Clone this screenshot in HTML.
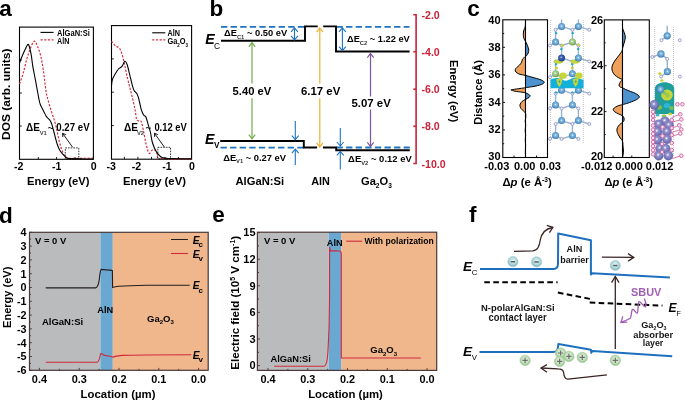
<!DOCTYPE html>
<html><head><meta charset="utf-8"><title>figure</title>
<style>
html,body{margin:0;padding:0;background:#fff;width:685px;height:401px;overflow:hidden;}
svg{display:block;will-change:transform;}
text{font-family:"Liberation Sans", sans-serif;}
</style></head><body>
<svg width="685" height="401" viewBox="0 0 685 401">
<defs>
<radialGradient id="gAl" cx="0.5" cy="0.45" r="0.55"><stop offset="0" stop-color="#ffffff"/><stop offset="0.22" stop-color="#8cc0e4"/><stop offset="0.7" stop-color="#5c9ccc"/><stop offset="1" stop-color="#3a74a8"/></radialGradient>
<radialGradient id="gGr" cx="0.45" cy="0.4" r="0.6"><stop offset="0" stop-color="#ffffff"/><stop offset="0.25" stop-color="#b4d89a"/><stop offset="1" stop-color="#6aa050"/></radialGradient>
<radialGradient id="gDb" cx="0.45" cy="0.4" r="0.6"><stop offset="0" stop-color="#c8d8f0"/><stop offset="0.3" stop-color="#3e64b0"/><stop offset="1" stop-color="#1a3c8c"/></radialGradient>
<radialGradient id="gGa" cx="0.45" cy="0.4" r="0.6"><stop offset="0" stop-color="#ffffff"/><stop offset="0.28" stop-color="#9494cf"/><stop offset="1" stop-color="#5e5ea6"/></radialGradient>
<radialGradient id="gEl" cx="0.5" cy="0.42" r="0.58"><stop offset="0" stop-color="#eef8f8"/><stop offset="0.55" stop-color="#b4dade"/><stop offset="1" stop-color="#7ab0ba"/></radialGradient>
<radialGradient id="gHo" cx="0.5" cy="0.45" r="0.55"><stop offset="0" stop-color="#eef6ea"/><stop offset="0.6" stop-color="#c4e0bc"/><stop offset="1" stop-color="#8cc084"/></radialGradient>
</defs>
<text x="-0.8" y="16.2" font-size="22.5" font-weight="bold">a</text>
<text x="209.6" y="16.2" font-size="22.5" font-weight="bold">b</text>
<text x="467.3" y="16.2" font-size="22.5" font-weight="bold">c</text>
<text x="-1.0" y="222.5" font-size="22.5" font-weight="bold">d</text>
<text x="212.2" y="222.3" font-size="22.5" font-weight="bold">e</text>
<text x="469.0" y="222.0" font-size="22.5" font-weight="bold">f</text>
<rect x="19.5" y="27.1" width="73.9" height="132.2" fill="none" stroke="#000" stroke-width="1.1"/>
<line x1="19.5" y1="60.0" x2="21.8" y2="60.0" stroke="#000" stroke-width="0.9"/>
<line x1="19.5" y1="93.0" x2="21.8" y2="93.0" stroke="#000" stroke-width="0.9"/>
<line x1="19.5" y1="126.0" x2="21.8" y2="126.0" stroke="#000" stroke-width="0.9"/>
<line x1="38.3" y1="159.3" x2="38.3" y2="157.0" stroke="#000" stroke-width="0.9"/>
<line x1="56.6" y1="159.3" x2="56.6" y2="157.0" stroke="#000" stroke-width="0.9"/>
<line x1="75.0" y1="159.3" x2="75.0" y2="157.0" stroke="#000" stroke-width="0.9"/>
<text x="18.6" y="169.6" font-size="10.6" text-anchor="middle" font-weight="bold">-2</text>
<text x="56.7" y="169.6" font-size="10.6" text-anchor="middle" font-weight="bold">-1</text>
<text x="93.6" y="169.6" font-size="10.6" text-anchor="middle" font-weight="bold">0</text>
<text x="58.3" y="184.6" font-size="11.3" text-anchor="middle" font-weight="bold" textLength="62.5" lengthAdjust="spacingAndGlyphs">Energy (eV)</text>
<text transform="translate(10.0,94.3) rotate(-90)" x="0" y="0" font-size="11.8" font-weight="bold" text-anchor="middle" textLength="91.5" lengthAdjust="spacingAndGlyphs">DOS (arb. units)</text>
<line x1="40.5" y1="32.4" x2="53.5" y2="32.4" stroke="#000" stroke-width="1.1"/>
<text x="57.0" y="36.0" font-size="8.2" font-weight="bold" textLength="32.8" lengthAdjust="spacingAndGlyphs">AlGaN:Si</text>
<line x1="40.5" y1="39.9" x2="53.5" y2="39.9" stroke="#d7303f" stroke-width="1.2" stroke-dasharray="2.2,1.5"/>
<text x="57.0" y="44.4" font-size="8.2" font-weight="bold" textLength="12.3" lengthAdjust="spacingAndGlyphs">AlN</text>
<path d="M19.50,83.90 C20.12,82.15 22.00,77.48 23.20,73.40 C24.40,69.32 25.53,63.47 26.70,59.40 C27.87,55.33 28.97,52.03 30.20,49.00 C31.43,45.97 32.93,41.78 34.10,41.20 C35.27,40.62 36.10,43.05 37.20,45.50 C38.30,47.95 39.68,51.83 40.70,55.90 C41.72,59.97 42.42,64.05 43.30,69.90 C44.18,75.75 45.17,85.82 46.00,91.00 C46.83,96.18 47.35,97.43 48.30,101.00 C49.25,104.57 50.62,108.95 51.70,112.40 C52.78,115.85 53.90,118.60 54.80,121.70 C55.70,124.80 56.33,127.65 57.10,131.00 C57.87,134.35 58.63,138.72 59.40,141.80 C60.17,144.88 60.80,147.13 61.70,149.50 C62.60,151.87 63.63,154.53 64.80,156.00 C65.97,157.47 66.77,157.92 68.70,158.30 C70.63,158.68 72.35,158.32 76.40,158.30 C80.45,158.28 90.23,158.22 93.00,158.20" fill="none" stroke="#d7303f" stroke-width="1.2" stroke-dasharray="2.2,1.5"/>
<path d="M19.50,63.30 C19.83,62.37 20.58,59.95 21.50,57.70 C22.42,55.45 23.85,52.00 25.00,49.80 C26.15,47.60 27.38,43.77 28.40,44.50 C29.42,45.23 30.37,50.55 31.10,54.20 C31.83,57.85 32.07,62.03 32.80,66.40 C33.53,70.77 34.65,75.88 35.50,80.40 C36.35,84.92 37.30,90.23 37.90,93.50 C38.50,96.77 38.68,98.12 39.10,100.00 C39.52,101.88 39.90,103.43 40.40,104.80 C40.90,106.17 41.50,107.00 42.10,108.20 C42.70,109.40 43.37,110.75 44.00,112.00 C44.63,113.25 45.28,114.70 45.90,115.70 C46.52,116.70 47.08,117.32 47.70,118.00 C48.32,118.68 49.08,119.17 49.60,119.80 C50.12,120.43 50.42,120.98 50.80,121.80 C51.18,122.62 51.53,123.58 51.90,124.70 C52.27,125.82 52.62,127.12 53.00,128.50 C53.38,129.88 53.77,131.33 54.20,133.00 C54.63,134.67 55.05,136.50 55.60,138.50 C56.15,140.50 56.80,143.03 57.50,145.00 C58.20,146.97 58.97,148.83 59.80,150.30 C60.63,151.77 61.48,152.65 62.50,153.80 C63.52,154.95 64.75,156.40 65.90,157.20 C67.05,158.00 67.05,158.32 69.40,158.60 C71.75,158.88 76.07,158.83 80.00,158.90 C83.93,158.97 90.83,158.98 93.00,159.00" fill="none" stroke="#000" stroke-width="1.1"/>
<text x="26.0" y="131.4" font-size="10.0" font-weight="bold">&#916;E</text>
<text x="39.7" y="134.6" font-size="5.8" font-weight="bold" fill="#444">V1</text>
<text x="47.8" y="131.4" font-size="9.8" font-weight="bold">~</text>
<text x="56.3" y="131.4" font-size="10.0" font-weight="bold" textLength="33.3" lengthAdjust="spacingAndGlyphs">0.27 eV</text>
<line x1="72.6" y1="147.2" x2="62.8" y2="133.6" stroke="#000" stroke-width="0.9"/>
<path d="M65.93,134.76 L62.50,133.30 L62.83,137.02" fill="none" stroke="#000" stroke-width="0.9" stroke-linejoin="miter"/>
<rect x="65.3" y="147.9" width="13.5" height="10.9" fill="none" stroke="#000" stroke-width="0.8" stroke-dasharray="1.6,1.1"/>
<rect x="111.5" y="25.6" width="80.1" height="133.6" fill="none" stroke="#000" stroke-width="1.1"/>
<line x1="111.5" y1="58.9" x2="113.8" y2="58.9" stroke="#000" stroke-width="0.9"/>
<line x1="111.5" y1="92.2" x2="113.8" y2="92.2" stroke="#000" stroke-width="0.9"/>
<line x1="111.5" y1="125.6" x2="113.8" y2="125.6" stroke="#000" stroke-width="0.9"/>
<line x1="124.4" y1="159.2" x2="124.4" y2="156.9" stroke="#000" stroke-width="0.9"/>
<line x1="137.9" y1="159.2" x2="137.9" y2="156.9" stroke="#000" stroke-width="0.9"/>
<line x1="151.5" y1="159.2" x2="151.5" y2="156.9" stroke="#000" stroke-width="0.9"/>
<line x1="165.0" y1="159.2" x2="165.0" y2="156.9" stroke="#000" stroke-width="0.9"/>
<line x1="178.4" y1="159.2" x2="178.4" y2="156.9" stroke="#000" stroke-width="0.9"/>
<text x="111.2" y="169.6" font-size="10.6" text-anchor="middle" font-weight="bold">-3</text>
<text x="136.4" y="169.6" font-size="10.6" text-anchor="middle" font-weight="bold">-2</text>
<text x="167.0" y="169.6" font-size="10.6" text-anchor="middle" font-weight="bold">-1</text>
<text x="191.9" y="169.6" font-size="10.6" text-anchor="middle" font-weight="bold">0</text>
<text x="154.5" y="184.7" font-size="11.3" text-anchor="middle" font-weight="bold" textLength="63" lengthAdjust="spacingAndGlyphs">Energy (eV)</text>
<line x1="152.2" y1="32.8" x2="165.3" y2="32.8" stroke="#000" stroke-width="1.1"/>
<text x="167.4" y="36.2" font-size="8.2" font-weight="bold" textLength="12.5" lengthAdjust="spacingAndGlyphs">AlN</text>
<line x1="152.2" y1="39.8" x2="165.3" y2="39.8" stroke="#d7303f" stroke-width="1.2" stroke-dasharray="2.2,1.5"/>
<text x="167.4" y="44.4" font-size="8.2" font-weight="bold" textLength="20.6" lengthAdjust="spacingAndGlyphs">Ga<tspan font-size="4.8" dy="2.2">2</tspan><tspan dy="-2.2">O</tspan><tspan font-size="4.8" dy="2.2">3</tspan></text>
<path d="M111.50,41.10 C112.08,41.83 113.70,44.33 115.00,45.50 C116.30,46.67 118.13,46.65 119.30,48.10 C120.47,49.55 121.12,51.43 122.00,54.20 C122.88,56.97 123.73,60.92 124.60,64.70 C125.47,68.48 126.33,73.12 127.20,76.90 C128.07,80.68 128.93,83.92 129.80,87.40 C130.67,90.88 131.53,94.15 132.40,97.80 C133.27,101.45 134.30,105.72 135.00,109.30 C135.70,112.88 135.95,117.37 136.60,119.30 C137.25,121.23 138.13,120.52 138.90,120.90 C139.67,121.28 140.43,119.93 141.20,121.60 C141.97,123.27 142.72,127.28 143.50,130.90 C144.28,134.52 144.98,139.57 145.90,143.30 C146.82,147.03 147.98,152.15 149.00,153.30 C150.02,154.45 150.98,150.72 152.00,150.20 C153.02,149.68 154.18,149.50 155.10,150.20 C156.02,150.90 156.60,153.03 157.50,154.40 C158.40,155.77 154.83,157.67 160.50,158.40 C166.17,159.13 186.33,158.73 191.50,158.80" fill="none" stroke="#d7303f" stroke-width="1.2" stroke-dasharray="2.2,1.5"/>
<path d="M111.50,85.60 C111.65,84.58 111.82,81.38 112.40,79.50 C112.98,77.62 113.98,76.05 115.00,74.30 C116.02,72.55 117.33,70.32 118.50,69.00 C119.67,67.68 120.93,67.70 122.00,66.40 C123.07,65.10 124.03,61.48 124.90,61.20 C125.77,60.92 126.38,62.38 127.20,64.70 C128.02,67.02 128.93,71.62 129.80,75.10 C130.67,78.58 131.67,82.98 132.40,85.60 C133.13,88.22 133.47,89.48 134.20,90.80 C134.93,92.12 136.08,92.33 136.80,93.50 C137.52,94.67 138.05,96.38 138.50,97.80 C138.95,99.22 139.05,100.08 139.50,102.00 C139.95,103.92 140.53,107.18 141.20,109.30 C141.87,111.42 142.72,113.42 143.50,114.70 C144.28,115.98 145.12,115.33 145.90,117.00 C146.68,118.67 147.43,122.12 148.20,124.70 C148.97,127.28 149.87,129.78 150.50,132.50 C151.13,135.22 151.35,138.43 152.00,141.00 C152.65,143.57 153.48,145.85 154.40,147.90 C155.32,149.95 156.22,151.70 157.50,153.30 C158.78,154.90 160.05,156.63 162.10,157.50 C164.15,158.37 164.90,158.30 169.80,158.50 C174.70,158.70 187.88,158.67 191.50,158.70" fill="none" stroke="#000" stroke-width="1.1"/>
<text x="124.0" y="131.3" font-size="10.1" font-weight="bold">&#916;E</text>
<text x="136.9" y="134.5" font-size="5.8" font-weight="bold" fill="#444">V2</text>
<text x="145.4" y="131.3" font-size="9.8" font-weight="bold">~</text>
<text x="154.4" y="131.3" font-size="10.1" font-weight="bold" textLength="32.4" lengthAdjust="spacingAndGlyphs">0.12 eV</text>
<line x1="164.4" y1="147.1" x2="154.7" y2="133.6" stroke="#000" stroke-width="0.9"/>
<path d="M157.83,134.68 L154.40,133.20 L154.71,136.92" fill="none" stroke="#000" stroke-width="0.9" stroke-linejoin="miter"/>
<rect x="157.8" y="147.3" width="12.8" height="11.7" fill="none" stroke="#000" stroke-width="0.8" stroke-dasharray="1.6,1.1"/>
<line x1="221" y1="26.8" x2="305" y2="26.8" stroke="#1f73bd" stroke-width="1.8" stroke-dasharray="6.3,3.3"/>
<line x1="336.5" y1="26.8" x2="409.5" y2="26.8" stroke="#1f73bd" stroke-width="1.8" stroke-dasharray="6.3,3.3"/>
<line x1="220.5" y1="147.7" x2="304" y2="147.7" stroke="#1f73bd" stroke-width="1.8" stroke-dasharray="6.3,3.3"/>
<line x1="336.5" y1="147.5" x2="409.8" y2="147.5" stroke="#1f73bd" stroke-width="1.8" stroke-dasharray="6.3,3.3"/>
<path d="M221,40.7 L305,40.7 L305,26.4 L317.7,26.4 M323.2,26.4 L336,26.4 L336,51.5 L409.6,51.5" fill="none" stroke="#000" stroke-width="1.9"/>
<path d="M220.2,141 L303.8,141 L303.8,147.5 L317.1,147.5 M322.9,147.5 L336.2,147.5 L336.2,150.3 L409.8,150.3" fill="none" stroke="#000" stroke-width="1.9"/>
<line x1="294.5" y1="28.2" x2="294.5" y2="39.2" stroke="#1f73bd" stroke-width="1.1"/>
<path d="M297.90,31.80 L294.50,27.80 L291.10,31.80" fill="none" stroke="#1f73bd" stroke-width="1.1" stroke-linejoin="miter"/>
<path d="M291.10,35.80 L294.50,39.80 L297.90,35.80" fill="none" stroke="#1f73bd" stroke-width="1.1" stroke-linejoin="miter"/>
<line x1="342.4" y1="28.2" x2="342.4" y2="50.2" stroke="#1f73bd" stroke-width="1.1"/>
<path d="M345.80,31.80 L342.40,27.80 L339.00,31.80" fill="none" stroke="#1f73bd" stroke-width="1.1" stroke-linejoin="miter"/>
<path d="M339.00,46.60 L342.40,50.60 L345.80,46.60" fill="none" stroke="#1f73bd" stroke-width="1.1" stroke-linejoin="miter"/>
<line x1="295.3" y1="121" x2="295.3" y2="139.6" stroke="#1f73bd" stroke-width="1.1"/>
<path d="M291.90,135.60 L295.30,139.60 L298.70,135.60" fill="none" stroke="#1f73bd" stroke-width="1.1" stroke-linejoin="miter"/>
<line x1="295.3" y1="165" x2="295.3" y2="149.2" stroke="#1f73bd" stroke-width="1.1"/>
<path d="M298.70,153.20 L295.30,149.20 L291.90,153.20" fill="none" stroke="#1f73bd" stroke-width="1.1" stroke-linejoin="miter"/>
<line x1="340.3" y1="128" x2="340.3" y2="146" stroke="#1f73bd" stroke-width="1.1"/>
<path d="M336.90,142.00 L340.30,146.00 L343.70,142.00" fill="none" stroke="#1f73bd" stroke-width="1.1" stroke-linejoin="miter"/>
<line x1="340.3" y1="169.4" x2="340.3" y2="151.4" stroke="#1f73bd" stroke-width="1.1"/>
<path d="M343.70,155.40 L340.30,151.40 L336.90,155.40" fill="none" stroke="#1f73bd" stroke-width="1.1" stroke-linejoin="miter"/>
<line x1="252.0" y1="42.6" x2="252.0" y2="83.4" stroke="#72ad4a" stroke-width="1.2"/>
<line x1="252.0" y1="98.3" x2="252.0" y2="138.8" stroke="#72ad4a" stroke-width="1.2"/>
<path d="M255.15,46.80 L252.00,42.60 L248.85,46.80" fill="none" stroke="#72ad4a" stroke-width="1.2" stroke-linejoin="miter"/>
<path d="M248.85,134.60 L252.00,138.80 L255.15,134.60" fill="none" stroke="#72ad4a" stroke-width="1.2" stroke-linejoin="miter"/>
<line x1="319.8" y1="28.0" x2="319.8" y2="83.4" stroke="#ebb12e" stroke-width="1.2"/>
<line x1="319.8" y1="98.3" x2="319.8" y2="147.0" stroke="#ebb12e" stroke-width="1.2"/>
<path d="M322.95,32.20 L319.80,28.00 L316.65,32.20" fill="none" stroke="#ebb12e" stroke-width="1.2" stroke-linejoin="miter"/>
<path d="M316.65,142.80 L319.80,147.00 L322.95,142.80" fill="none" stroke="#ebb12e" stroke-width="1.2" stroke-linejoin="miter"/>
<line x1="370.5" y1="53.5" x2="370.5" y2="96.5" stroke="#7f55a3" stroke-width="1.2"/>
<line x1="370.5" y1="109.5" x2="370.5" y2="146.5" stroke="#7f55a3" stroke-width="1.2"/>
<path d="M373.65,57.70 L370.50,53.50 L367.35,57.70" fill="none" stroke="#7f55a3" stroke-width="1.2" stroke-linejoin="miter"/>
<path d="M367.35,142.30 L370.50,146.50 L373.65,142.30" fill="none" stroke="#7f55a3" stroke-width="1.2" stroke-linejoin="miter"/>
<text x="251.9" y="94.8" font-size="11.2" text-anchor="middle" font-weight="bold" textLength="38.6" lengthAdjust="spacingAndGlyphs">5.40 eV</text>
<text x="320.6" y="94.8" font-size="11.2" text-anchor="middle" font-weight="bold" textLength="39.4" lengthAdjust="spacingAndGlyphs">6.17 eV</text>
<text x="371.1" y="106.6" font-size="11.2" text-anchor="middle" font-weight="bold" textLength="39.4" lengthAdjust="spacingAndGlyphs">5.07 eV</text>
<text x="205.2" y="43.8" font-size="14.2" font-weight="bold" font-style="italic">E</text>
<text x="213.9" y="48.8" font-size="8.4">C</text>
<text x="205.0" y="144.0" font-size="14.2" font-weight="bold" font-style="italic">E</text>
<text x="213.9" y="148.3" font-size="8.2" font-weight="bold">V</text>
<text x="224.0" y="36.2" font-size="8.8" font-weight="bold" textLength="63.2" lengthAdjust="spacingAndGlyphs">&#916;E<tspan font-size="5.46" dy="2.64" fill="#333">C1</tspan><tspan dy="-2.64"> ~ 0.50 eV</tspan></text>
<text x="347.0" y="42.1" font-size="8.8" font-weight="bold" textLength="62.8" lengthAdjust="spacingAndGlyphs">&#916;E<tspan font-size="5.46" dy="2.64" fill="#333">C2</tspan><tspan dy="-2.64"> ~ 1.22 eV</tspan></text>
<text x="223.2" y="160.7" font-size="8.8" font-weight="bold" textLength="62.8" lengthAdjust="spacingAndGlyphs">&#916;E<tspan font-size="5.46" dy="2.64" fill="#333">V1</tspan><tspan dy="-2.64"> ~ 0.27 eV</tspan></text>
<text x="348.1" y="162.0" font-size="8.8" font-weight="bold" textLength="63.6" lengthAdjust="spacingAndGlyphs">&#916;E<tspan font-size="5.46" dy="2.64" fill="#333">V2</tspan><tspan dy="-2.64"> ~ 0.12 eV</tspan></text>
<text x="259.8" y="185.0" font-size="11.2" text-anchor="middle" font-weight="bold" textLength="48.6" lengthAdjust="spacingAndGlyphs">AlGaN:Si</text>
<text x="320.6" y="184.7" font-size="11.2" text-anchor="middle" font-weight="bold" textLength="18.7" lengthAdjust="spacingAndGlyphs">AlN</text>
<text x="361" y="184.7" font-size="11.2" font-weight="bold" textLength="30.8" lengthAdjust="spacingAndGlyphs">Ga<tspan font-size="6.6" dy="3.4">2</tspan><tspan dy="-3.4">O</tspan><tspan font-size="6.6" dy="3.4">3</tspan></text>
<path d="M413.3,14.8 L416.1,14.8 L416.1,163.5 L413.3,163.5" fill="none" stroke="#cc2239" stroke-width="1.6"/>
<line x1="413.3" y1="51.7" x2="416.1" y2="51.7" stroke="#cc2239" stroke-width="1.6"/>
<line x1="413.3" y1="89.2" x2="416.1" y2="89.2" stroke="#cc2239" stroke-width="1.6"/>
<line x1="413.3" y1="126.3" x2="416.1" y2="126.3" stroke="#cc2239" stroke-width="1.6"/>
<text x="421.5" y="18.9" font-size="10.6" font-weight="bold" fill="#cc2239">-2.0</text>
<text x="421.5" y="56.05" font-size="10.6" font-weight="bold" fill="#cc2239">-4.0</text>
<text x="421.5" y="93.19999999999999" font-size="10.6" font-weight="bold" fill="#cc2239">-6.0</text>
<text x="421.5" y="130.35" font-size="10.6" font-weight="bold" fill="#cc2239">-8.0</text>
<text x="421.5" y="167.5" font-size="10.6" font-weight="bold" fill="#cc2239">-10.0</text>
<text transform="translate(449.6,91.1) rotate(90)" x="0" y="0" font-size="11.3" font-weight="bold" text-anchor="middle" textLength="62.2" lengthAdjust="spacingAndGlyphs">Energy (eV)</text>
<clipPath id="clL"><rect x="502.8" y="19.8" width="22.69999999999999" height="137.7"/></clipPath>
<clipPath id="clR"><rect x="525.5" y="19.8" width="22.0" height="137.7"/></clipPath>
<path d="M525.50,19.80 C525.47,20.83 525.47,24.55 525.30,26.00 C525.13,27.45 524.78,27.67 524.50,28.50 C524.22,29.33 523.80,30.05 523.60,31.00 C523.40,31.95 523.30,33.12 523.30,34.20 C523.30,35.28 523.38,36.53 523.60,37.50 C523.82,38.47 524.28,39.37 524.60,40.00 C524.92,40.63 525.13,40.63 525.50,41.30 C525.87,41.97 526.35,42.97 526.80,44.00 C527.25,45.03 527.88,46.45 528.20,47.50 C528.52,48.55 528.70,49.38 528.70,50.30 C528.70,51.22 528.52,52.17 528.20,53.00 C527.88,53.83 527.25,54.70 526.80,55.30 C526.35,55.90 526.05,56.15 525.50,56.60 C524.95,57.05 524.02,57.55 523.50,58.00 C522.98,58.45 522.65,58.80 522.40,59.30 C522.15,59.80 522.30,60.25 522.00,61.00 C521.70,61.75 521.27,62.88 520.60,63.80 C519.93,64.72 518.80,65.72 518.00,66.50 C517.20,67.28 516.25,67.75 515.80,68.50 C515.35,69.25 515.10,70.28 515.30,71.00 C515.50,71.72 516.22,72.25 517.00,72.80 C517.78,73.35 518.58,73.87 520.00,74.30 C521.42,74.73 523.33,74.87 525.50,75.40 C527.67,75.93 530.58,76.82 533.00,77.50 C535.42,78.18 538.17,78.80 540.00,79.50 C541.83,80.20 543.58,80.95 544.00,81.70 C544.42,82.45 543.83,83.28 542.50,84.00 C541.17,84.72 538.42,85.45 536.00,86.00 C533.58,86.55 529.75,87.02 528.00,87.30 C526.25,87.58 526.83,87.50 525.50,87.70 C524.17,87.90 522.08,88.20 520.00,88.50 C517.92,88.80 514.50,89.25 513.00,89.50 C511.50,89.75 510.67,89.72 511.00,90.00 C511.33,90.28 513.17,90.83 515.00,91.20 C516.83,91.57 520.25,91.93 522.00,92.20 C523.75,92.47 524.42,92.45 525.50,92.80 C526.58,93.15 527.75,93.83 528.50,94.30 C529.25,94.77 529.92,95.07 530.00,95.60 C530.08,96.13 529.75,96.87 529.00,97.50 C528.25,98.13 526.67,98.73 525.50,99.40 C524.33,100.07 522.87,100.73 522.00,101.50 C521.13,102.27 520.63,103.25 520.30,104.00 C519.97,104.75 519.88,105.25 520.00,106.00 C520.12,106.75 520.42,107.67 521.00,108.50 C521.58,109.33 522.75,110.25 523.50,111.00 C524.25,111.75 525.12,112.00 525.50,113.00 C525.88,114.00 525.85,115.67 525.80,117.00 C525.75,118.33 525.22,119.67 525.20,121.00 C525.18,122.33 525.70,123.50 525.70,125.00 C525.70,126.50 525.22,128.33 525.20,130.00 C525.18,131.67 525.58,133.33 525.60,135.00 C525.62,136.67 525.30,138.33 525.30,140.00 C525.30,141.67 525.58,143.33 525.60,145.00 C525.62,146.67 525.42,147.92 525.40,150.00 C525.38,152.08 525.48,156.25 525.50,157.50 L525.5,157.5 L525.5,19.8 Z" fill="#eda15c" clip-path="url(#clL)"/>
<path d="M525.50,19.80 C525.47,20.83 525.47,24.55 525.30,26.00 C525.13,27.45 524.78,27.67 524.50,28.50 C524.22,29.33 523.80,30.05 523.60,31.00 C523.40,31.95 523.30,33.12 523.30,34.20 C523.30,35.28 523.38,36.53 523.60,37.50 C523.82,38.47 524.28,39.37 524.60,40.00 C524.92,40.63 525.13,40.63 525.50,41.30 C525.87,41.97 526.35,42.97 526.80,44.00 C527.25,45.03 527.88,46.45 528.20,47.50 C528.52,48.55 528.70,49.38 528.70,50.30 C528.70,51.22 528.52,52.17 528.20,53.00 C527.88,53.83 527.25,54.70 526.80,55.30 C526.35,55.90 526.05,56.15 525.50,56.60 C524.95,57.05 524.02,57.55 523.50,58.00 C522.98,58.45 522.65,58.80 522.40,59.30 C522.15,59.80 522.30,60.25 522.00,61.00 C521.70,61.75 521.27,62.88 520.60,63.80 C519.93,64.72 518.80,65.72 518.00,66.50 C517.20,67.28 516.25,67.75 515.80,68.50 C515.35,69.25 515.10,70.28 515.30,71.00 C515.50,71.72 516.22,72.25 517.00,72.80 C517.78,73.35 518.58,73.87 520.00,74.30 C521.42,74.73 523.33,74.87 525.50,75.40 C527.67,75.93 530.58,76.82 533.00,77.50 C535.42,78.18 538.17,78.80 540.00,79.50 C541.83,80.20 543.58,80.95 544.00,81.70 C544.42,82.45 543.83,83.28 542.50,84.00 C541.17,84.72 538.42,85.45 536.00,86.00 C533.58,86.55 529.75,87.02 528.00,87.30 C526.25,87.58 526.83,87.50 525.50,87.70 C524.17,87.90 522.08,88.20 520.00,88.50 C517.92,88.80 514.50,89.25 513.00,89.50 C511.50,89.75 510.67,89.72 511.00,90.00 C511.33,90.28 513.17,90.83 515.00,91.20 C516.83,91.57 520.25,91.93 522.00,92.20 C523.75,92.47 524.42,92.45 525.50,92.80 C526.58,93.15 527.75,93.83 528.50,94.30 C529.25,94.77 529.92,95.07 530.00,95.60 C530.08,96.13 529.75,96.87 529.00,97.50 C528.25,98.13 526.67,98.73 525.50,99.40 C524.33,100.07 522.87,100.73 522.00,101.50 C521.13,102.27 520.63,103.25 520.30,104.00 C519.97,104.75 519.88,105.25 520.00,106.00 C520.12,106.75 520.42,107.67 521.00,108.50 C521.58,109.33 522.75,110.25 523.50,111.00 C524.25,111.75 525.12,112.00 525.50,113.00 C525.88,114.00 525.85,115.67 525.80,117.00 C525.75,118.33 525.22,119.67 525.20,121.00 C525.18,122.33 525.70,123.50 525.70,125.00 C525.70,126.50 525.22,128.33 525.20,130.00 C525.18,131.67 525.58,133.33 525.60,135.00 C525.62,136.67 525.30,138.33 525.30,140.00 C525.30,141.67 525.58,143.33 525.60,145.00 C525.62,146.67 525.42,147.92 525.40,150.00 C525.38,152.08 525.48,156.25 525.50,157.50 L525.5,157.5 L525.5,19.8 Z" fill="#4c92cf" clip-path="url(#clR)"/>
<path d="M525.50,19.80 C525.47,20.83 525.47,24.55 525.30,26.00 C525.13,27.45 524.78,27.67 524.50,28.50 C524.22,29.33 523.80,30.05 523.60,31.00 C523.40,31.95 523.30,33.12 523.30,34.20 C523.30,35.28 523.38,36.53 523.60,37.50 C523.82,38.47 524.28,39.37 524.60,40.00 C524.92,40.63 525.13,40.63 525.50,41.30 C525.87,41.97 526.35,42.97 526.80,44.00 C527.25,45.03 527.88,46.45 528.20,47.50 C528.52,48.55 528.70,49.38 528.70,50.30 C528.70,51.22 528.52,52.17 528.20,53.00 C527.88,53.83 527.25,54.70 526.80,55.30 C526.35,55.90 526.05,56.15 525.50,56.60 C524.95,57.05 524.02,57.55 523.50,58.00 C522.98,58.45 522.65,58.80 522.40,59.30 C522.15,59.80 522.30,60.25 522.00,61.00 C521.70,61.75 521.27,62.88 520.60,63.80 C519.93,64.72 518.80,65.72 518.00,66.50 C517.20,67.28 516.25,67.75 515.80,68.50 C515.35,69.25 515.10,70.28 515.30,71.00 C515.50,71.72 516.22,72.25 517.00,72.80 C517.78,73.35 518.58,73.87 520.00,74.30 C521.42,74.73 523.33,74.87 525.50,75.40 C527.67,75.93 530.58,76.82 533.00,77.50 C535.42,78.18 538.17,78.80 540.00,79.50 C541.83,80.20 543.58,80.95 544.00,81.70 C544.42,82.45 543.83,83.28 542.50,84.00 C541.17,84.72 538.42,85.45 536.00,86.00 C533.58,86.55 529.75,87.02 528.00,87.30 C526.25,87.58 526.83,87.50 525.50,87.70 C524.17,87.90 522.08,88.20 520.00,88.50 C517.92,88.80 514.50,89.25 513.00,89.50 C511.50,89.75 510.67,89.72 511.00,90.00 C511.33,90.28 513.17,90.83 515.00,91.20 C516.83,91.57 520.25,91.93 522.00,92.20 C523.75,92.47 524.42,92.45 525.50,92.80 C526.58,93.15 527.75,93.83 528.50,94.30 C529.25,94.77 529.92,95.07 530.00,95.60 C530.08,96.13 529.75,96.87 529.00,97.50 C528.25,98.13 526.67,98.73 525.50,99.40 C524.33,100.07 522.87,100.73 522.00,101.50 C521.13,102.27 520.63,103.25 520.30,104.00 C519.97,104.75 519.88,105.25 520.00,106.00 C520.12,106.75 520.42,107.67 521.00,108.50 C521.58,109.33 522.75,110.25 523.50,111.00 C524.25,111.75 525.12,112.00 525.50,113.00 C525.88,114.00 525.85,115.67 525.80,117.00 C525.75,118.33 525.22,119.67 525.20,121.00 C525.18,122.33 525.70,123.50 525.70,125.00 C525.70,126.50 525.22,128.33 525.20,130.00 C525.18,131.67 525.58,133.33 525.60,135.00 C525.62,136.67 525.30,138.33 525.30,140.00 C525.30,141.67 525.58,143.33 525.60,145.00 C525.62,146.67 525.42,147.92 525.40,150.00 C525.38,152.08 525.48,156.25 525.50,157.50" fill="none" stroke="#000" stroke-width="1"/>
<line x1="525.5" y1="19.8" x2="525.5" y2="157.5" stroke="#000" stroke-width="1.1"/>
<rect x="502.8" y="19.8" width="44.69999999999999" height="137.7" fill="none" stroke="#000" stroke-width="1.1"/>
<line x1="502.8" y1="33.57" x2="504.2" y2="33.57" stroke="#000" stroke-width="0.9"/>
<line x1="502.8" y1="47.34" x2="505.0" y2="47.34" stroke="#000" stroke-width="0.9"/>
<line x1="502.8" y1="61.11" x2="504.2" y2="61.11" stroke="#000" stroke-width="0.9"/>
<line x1="502.8" y1="74.88" x2="505.0" y2="74.88" stroke="#000" stroke-width="0.9"/>
<line x1="502.8" y1="88.64999999999999" x2="504.2" y2="88.64999999999999" stroke="#000" stroke-width="0.9"/>
<line x1="502.8" y1="102.42" x2="505.0" y2="102.42" stroke="#000" stroke-width="0.9"/>
<line x1="502.8" y1="116.19" x2="504.2" y2="116.19" stroke="#000" stroke-width="0.9"/>
<line x1="502.8" y1="129.96" x2="505.0" y2="129.96" stroke="#000" stroke-width="0.9"/>
<line x1="502.8" y1="143.73" x2="504.2" y2="143.73" stroke="#000" stroke-width="0.9"/>
<line x1="514.0" y1="157.5" x2="514.0" y2="155.5" stroke="#000" stroke-width="0.9"/>
<line x1="536.5" y1="157.5" x2="536.5" y2="155.5" stroke="#000" stroke-width="0.9"/>
<text x="500.6" y="24.0" font-size="11" text-anchor="end" font-weight="bold">40</text>
<text x="500.6" y="51.239999999999995" font-size="11" text-anchor="end" font-weight="bold">38</text>
<text x="500.6" y="78.47999999999999" font-size="11" text-anchor="end" font-weight="bold">36</text>
<text x="500.6" y="105.72" font-size="11" text-anchor="end" font-weight="bold">34</text>
<text x="500.6" y="132.95999999999998" font-size="11" text-anchor="end" font-weight="bold">32</text>
<text x="500.6" y="160.2" font-size="11" text-anchor="end" font-weight="bold">30</text>
<text x="496.8" y="170.2" font-size="11" text-anchor="middle" font-weight="bold">-0.03</text>
<text x="524.7" y="170.2" font-size="11" text-anchor="middle" font-weight="bold">0.00</text>
<text x="550.3" y="170.2" font-size="11" text-anchor="middle" font-weight="bold">0.03</text>
<text x="502.4" y="185.8" font-size="11.2" font-weight="bold" textLength="49.4" lengthAdjust="spacingAndGlyphs">&#916;<tspan font-style="italic">p</tspan> (e &#197;<tspan font-size="6.5" dy="-4.2">-3</tspan><tspan dy="4.2">)</tspan></text>
<clipPath id="crL"><rect x="604.3" y="19.9" width="18.200000000000045" height="137.6"/></clipPath>
<clipPath id="crR"><rect x="622.5" y="19.9" width="26.799999999999955" height="137.6"/></clipPath>
<path d="M622.50,19.90 C622.50,21.08 622.38,25.32 622.50,27.00 C622.62,28.68 622.83,28.83 623.20,30.00 C623.57,31.17 624.35,32.77 624.70,34.00 C625.05,35.23 625.30,36.23 625.30,37.40 C625.30,38.57 625.00,39.73 624.70,41.00 C624.40,42.27 623.87,43.73 623.50,45.00 C623.13,46.27 622.73,47.68 622.50,48.60 C622.27,49.52 622.40,49.77 622.10,50.50 C621.80,51.23 621.43,51.92 620.70,53.00 C619.97,54.08 618.70,55.67 617.70,57.00 C616.70,58.33 615.57,59.67 614.70,61.00 C613.83,62.33 612.97,63.78 612.50,65.00 C612.03,66.22 611.90,67.22 611.90,68.30 C611.90,69.38 612.03,70.38 612.50,71.50 C612.97,72.62 613.75,74.00 614.70,75.00 C615.65,76.00 617.12,76.83 618.20,77.50 C619.28,78.17 620.48,78.67 621.20,79.00 C621.92,79.33 622.58,79.08 622.50,79.50 C622.42,79.92 621.28,80.57 620.70,81.50 C620.12,82.43 619.08,84.18 619.00,85.10 C618.92,86.02 619.62,86.55 620.20,87.00 C620.78,87.45 621.58,87.38 622.50,87.80 C623.42,88.22 624.33,88.88 625.70,89.50 C627.07,90.12 629.03,90.83 630.70,91.50 C632.37,92.17 634.27,92.65 635.70,93.50 C637.13,94.35 639.13,95.60 639.30,96.60 C639.47,97.60 638.30,98.52 636.70,99.50 C635.10,100.48 631.78,101.72 629.70,102.50 C627.62,103.28 625.40,103.85 624.20,104.20 C623.00,104.55 623.58,104.30 622.50,104.60 C621.42,104.90 619.08,105.43 617.70,106.00 C616.32,106.57 614.95,107.38 614.20,108.00 C613.45,108.62 613.12,109.07 613.20,109.70 C613.28,110.33 613.78,111.08 614.70,111.80 C615.62,112.52 617.40,113.33 618.70,114.00 C620.00,114.67 621.62,115.13 622.50,115.80 C623.38,116.47 623.75,117.22 624.00,118.00 C624.25,118.78 624.25,119.77 624.00,120.50 C623.75,121.23 623.22,121.73 622.50,122.40 C621.78,123.07 620.53,123.65 619.70,124.50 C618.87,125.35 617.97,126.45 617.50,127.50 C617.03,128.55 616.78,129.63 616.90,130.80 C617.02,131.97 617.65,133.30 618.20,134.50 C618.75,135.70 619.48,136.92 620.20,138.00 C620.92,139.08 622.05,139.83 622.50,141.00 C622.95,142.17 622.75,143.50 622.90,145.00 C623.05,146.50 623.35,148.50 623.40,150.00 C623.45,151.50 623.35,152.75 623.20,154.00 C623.05,155.25 622.62,156.92 622.50,157.50 L622.5,157.5 L622.5,19.9 Z" fill="#eda15c" clip-path="url(#crL)"/>
<path d="M622.50,19.90 C622.50,21.08 622.38,25.32 622.50,27.00 C622.62,28.68 622.83,28.83 623.20,30.00 C623.57,31.17 624.35,32.77 624.70,34.00 C625.05,35.23 625.30,36.23 625.30,37.40 C625.30,38.57 625.00,39.73 624.70,41.00 C624.40,42.27 623.87,43.73 623.50,45.00 C623.13,46.27 622.73,47.68 622.50,48.60 C622.27,49.52 622.40,49.77 622.10,50.50 C621.80,51.23 621.43,51.92 620.70,53.00 C619.97,54.08 618.70,55.67 617.70,57.00 C616.70,58.33 615.57,59.67 614.70,61.00 C613.83,62.33 612.97,63.78 612.50,65.00 C612.03,66.22 611.90,67.22 611.90,68.30 C611.90,69.38 612.03,70.38 612.50,71.50 C612.97,72.62 613.75,74.00 614.70,75.00 C615.65,76.00 617.12,76.83 618.20,77.50 C619.28,78.17 620.48,78.67 621.20,79.00 C621.92,79.33 622.58,79.08 622.50,79.50 C622.42,79.92 621.28,80.57 620.70,81.50 C620.12,82.43 619.08,84.18 619.00,85.10 C618.92,86.02 619.62,86.55 620.20,87.00 C620.78,87.45 621.58,87.38 622.50,87.80 C623.42,88.22 624.33,88.88 625.70,89.50 C627.07,90.12 629.03,90.83 630.70,91.50 C632.37,92.17 634.27,92.65 635.70,93.50 C637.13,94.35 639.13,95.60 639.30,96.60 C639.47,97.60 638.30,98.52 636.70,99.50 C635.10,100.48 631.78,101.72 629.70,102.50 C627.62,103.28 625.40,103.85 624.20,104.20 C623.00,104.55 623.58,104.30 622.50,104.60 C621.42,104.90 619.08,105.43 617.70,106.00 C616.32,106.57 614.95,107.38 614.20,108.00 C613.45,108.62 613.12,109.07 613.20,109.70 C613.28,110.33 613.78,111.08 614.70,111.80 C615.62,112.52 617.40,113.33 618.70,114.00 C620.00,114.67 621.62,115.13 622.50,115.80 C623.38,116.47 623.75,117.22 624.00,118.00 C624.25,118.78 624.25,119.77 624.00,120.50 C623.75,121.23 623.22,121.73 622.50,122.40 C621.78,123.07 620.53,123.65 619.70,124.50 C618.87,125.35 617.97,126.45 617.50,127.50 C617.03,128.55 616.78,129.63 616.90,130.80 C617.02,131.97 617.65,133.30 618.20,134.50 C618.75,135.70 619.48,136.92 620.20,138.00 C620.92,139.08 622.05,139.83 622.50,141.00 C622.95,142.17 622.75,143.50 622.90,145.00 C623.05,146.50 623.35,148.50 623.40,150.00 C623.45,151.50 623.35,152.75 623.20,154.00 C623.05,155.25 622.62,156.92 622.50,157.50 L622.5,157.5 L622.5,19.9 Z" fill="#4c92cf" clip-path="url(#crR)"/>
<path d="M622.50,19.90 C622.50,21.08 622.38,25.32 622.50,27.00 C622.62,28.68 622.83,28.83 623.20,30.00 C623.57,31.17 624.35,32.77 624.70,34.00 C625.05,35.23 625.30,36.23 625.30,37.40 C625.30,38.57 625.00,39.73 624.70,41.00 C624.40,42.27 623.87,43.73 623.50,45.00 C623.13,46.27 622.73,47.68 622.50,48.60 C622.27,49.52 622.40,49.77 622.10,50.50 C621.80,51.23 621.43,51.92 620.70,53.00 C619.97,54.08 618.70,55.67 617.70,57.00 C616.70,58.33 615.57,59.67 614.70,61.00 C613.83,62.33 612.97,63.78 612.50,65.00 C612.03,66.22 611.90,67.22 611.90,68.30 C611.90,69.38 612.03,70.38 612.50,71.50 C612.97,72.62 613.75,74.00 614.70,75.00 C615.65,76.00 617.12,76.83 618.20,77.50 C619.28,78.17 620.48,78.67 621.20,79.00 C621.92,79.33 622.58,79.08 622.50,79.50 C622.42,79.92 621.28,80.57 620.70,81.50 C620.12,82.43 619.08,84.18 619.00,85.10 C618.92,86.02 619.62,86.55 620.20,87.00 C620.78,87.45 621.58,87.38 622.50,87.80 C623.42,88.22 624.33,88.88 625.70,89.50 C627.07,90.12 629.03,90.83 630.70,91.50 C632.37,92.17 634.27,92.65 635.70,93.50 C637.13,94.35 639.13,95.60 639.30,96.60 C639.47,97.60 638.30,98.52 636.70,99.50 C635.10,100.48 631.78,101.72 629.70,102.50 C627.62,103.28 625.40,103.85 624.20,104.20 C623.00,104.55 623.58,104.30 622.50,104.60 C621.42,104.90 619.08,105.43 617.70,106.00 C616.32,106.57 614.95,107.38 614.20,108.00 C613.45,108.62 613.12,109.07 613.20,109.70 C613.28,110.33 613.78,111.08 614.70,111.80 C615.62,112.52 617.40,113.33 618.70,114.00 C620.00,114.67 621.62,115.13 622.50,115.80 C623.38,116.47 623.75,117.22 624.00,118.00 C624.25,118.78 624.25,119.77 624.00,120.50 C623.75,121.23 623.22,121.73 622.50,122.40 C621.78,123.07 620.53,123.65 619.70,124.50 C618.87,125.35 617.97,126.45 617.50,127.50 C617.03,128.55 616.78,129.63 616.90,130.80 C617.02,131.97 617.65,133.30 618.20,134.50 C618.75,135.70 619.48,136.92 620.20,138.00 C620.92,139.08 622.05,139.83 622.50,141.00 C622.95,142.17 622.75,143.50 622.90,145.00 C623.05,146.50 623.35,148.50 623.40,150.00 C623.45,151.50 623.35,152.75 623.20,154.00 C623.05,155.25 622.62,156.92 622.50,157.50" fill="none" stroke="#000" stroke-width="1"/>
<line x1="622.5" y1="19.9" x2="622.5" y2="157.5" stroke="#000" stroke-width="1.1"/>
<rect x="604.3" y="19.9" width="45.0" height="137.6" fill="none" stroke="#000" stroke-width="1.1"/>
<line x1="604.3" y1="42.83" x2="605.7" y2="42.83" stroke="#000" stroke-width="0.9"/>
<line x1="604.3" y1="65.75999999999999" x2="606.5" y2="65.75999999999999" stroke="#000" stroke-width="0.9"/>
<line x1="604.3" y1="88.69" x2="605.7" y2="88.69" stroke="#000" stroke-width="0.9"/>
<line x1="604.3" y1="111.62" x2="606.5" y2="111.62" stroke="#000" stroke-width="0.9"/>
<line x1="604.3" y1="134.55" x2="605.7" y2="134.55" stroke="#000" stroke-width="0.9"/>
<line x1="613.1" y1="157.5" x2="613.1" y2="155.5" stroke="#000" stroke-width="0.9"/>
<line x1="631.8" y1="157.5" x2="631.8" y2="155.5" stroke="#000" stroke-width="0.9"/>
<text x="603.2" y="23.8" font-size="11" text-anchor="end" font-weight="bold">26</text>
<text x="603.2" y="69.35" font-size="11" text-anchor="end" font-weight="bold">24</text>
<text x="603.2" y="114.89999999999999" font-size="11" text-anchor="end" font-weight="bold">22</text>
<text x="603.2" y="160.45" font-size="11" text-anchor="end" font-weight="bold">20</text>
<text x="596.7" y="170.2" font-size="11" text-anchor="middle" font-weight="bold">-0.012</text>
<text x="629.1" y="170.2" font-size="11" text-anchor="middle" font-weight="bold">0.000</text>
<text x="659.6" y="170.2" font-size="11" text-anchor="middle" font-weight="bold">0.012</text>
<text x="604.4" y="186" font-size="11.2" font-weight="bold" textLength="48.5" lengthAdjust="spacingAndGlyphs">&#916;<tspan font-style="italic">p</tspan> (e &#197;<tspan font-size="6.5" dy="-4.2">-3</tspan><tspan dy="4.2">)</tspan></text>
<line x1="550.6" y1="20" x2="550.6" y2="143.5" stroke="#777" stroke-width="0.6" stroke-dasharray="0.8,1.2"/>
<line x1="583.3" y1="20" x2="583.3" y2="143.5" stroke="#777" stroke-width="0.6" stroke-dasharray="0.8,1.2"/>
<line x1="561.6" y1="19.5" x2="561.6" y2="26.4" stroke="#98b2d2" stroke-width="1.4"/>
<line x1="578.4" y1="19.5" x2="578.4" y2="26.4" stroke="#98b2d2" stroke-width="1.4"/>
<line x1="561.6" y1="26.4" x2="555.6" y2="29.799999999999997" stroke="#98b2d2" stroke-width="1.4"/>
<line x1="561.6" y1="26.4" x2="572.4" y2="29.799999999999997" stroke="#98b2d2" stroke-width="1.4"/>
<line x1="578.4" y1="26.4" x2="572.4" y2="29.799999999999997" stroke="#98b2d2" stroke-width="1.4"/>
<line x1="578.4" y1="26.4" x2="589.3" y2="29.799999999999997" stroke="#98b2d2" stroke-width="1.4"/>
<line x1="561.6" y1="58.0" x2="555.6" y2="61.4" stroke="#98b2d2" stroke-width="1.4"/>
<line x1="561.6" y1="58.0" x2="572.4" y2="61.4" stroke="#98b2d2" stroke-width="1.4"/>
<line x1="561.6" y1="58.0" x2="561.6" y2="45.5" stroke="#98b2d2" stroke-width="1.4"/>
<line x1="578.4" y1="58.0" x2="572.4" y2="61.4" stroke="#98b2d2" stroke-width="1.4"/>
<line x1="578.4" y1="58.0" x2="589.3" y2="61.4" stroke="#98b2d2" stroke-width="1.4"/>
<line x1="578.4" y1="58.0" x2="578.4" y2="45.5" stroke="#98b2d2" stroke-width="1.4"/>
<line x1="561.6" y1="90.2" x2="555.6" y2="93.60000000000001" stroke="#98b2d2" stroke-width="1.4"/>
<line x1="561.6" y1="90.2" x2="572.4" y2="93.60000000000001" stroke="#98b2d2" stroke-width="1.4"/>
<line x1="561.6" y1="90.2" x2="561.6" y2="77.2" stroke="#98b2d2" stroke-width="1.4"/>
<line x1="578.4" y1="90.2" x2="572.4" y2="93.60000000000001" stroke="#98b2d2" stroke-width="1.4"/>
<line x1="578.4" y1="90.2" x2="589.3" y2="93.60000000000001" stroke="#98b2d2" stroke-width="1.4"/>
<line x1="578.4" y1="90.2" x2="578.4" y2="77.2" stroke="#98b2d2" stroke-width="1.4"/>
<line x1="561.6" y1="120.6" x2="555.6" y2="124.0" stroke="#98b2d2" stroke-width="1.4"/>
<line x1="561.6" y1="120.6" x2="572.4" y2="124.0" stroke="#98b2d2" stroke-width="1.4"/>
<line x1="561.6" y1="120.6" x2="561.6" y2="108.4" stroke="#98b2d2" stroke-width="1.4"/>
<line x1="578.4" y1="120.6" x2="572.4" y2="124.0" stroke="#98b2d2" stroke-width="1.4"/>
<line x1="578.4" y1="120.6" x2="589.3" y2="124.0" stroke="#98b2d2" stroke-width="1.4"/>
<line x1="578.4" y1="120.6" x2="578.4" y2="108.4" stroke="#98b2d2" stroke-width="1.4"/>
<line x1="555.6" y1="42.1" x2="555.6" y2="29.799999999999997" stroke="#98b2d2" stroke-width="1.4"/>
<line x1="555.6" y1="42.1" x2="550.0" y2="45.5" stroke="#98b2d2" stroke-width="1.4"/>
<line x1="555.6" y1="42.1" x2="561.6" y2="45.5" stroke="#98b2d2" stroke-width="1.4"/>
<line x1="572.4" y1="42.1" x2="572.4" y2="29.799999999999997" stroke="#98b2d2" stroke-width="1.4"/>
<line x1="572.4" y1="42.1" x2="561.6" y2="45.5" stroke="#98b2d2" stroke-width="1.4"/>
<line x1="572.4" y1="42.1" x2="578.4" y2="45.5" stroke="#98b2d2" stroke-width="1.4"/>
<line x1="555.6" y1="73.8" x2="555.6" y2="61.4" stroke="#98b2d2" stroke-width="1.4"/>
<line x1="555.6" y1="73.8" x2="550.0" y2="77.2" stroke="#98b2d2" stroke-width="1.4"/>
<line x1="555.6" y1="73.8" x2="561.6" y2="77.2" stroke="#98b2d2" stroke-width="1.4"/>
<line x1="572.4" y1="73.8" x2="572.4" y2="61.4" stroke="#98b2d2" stroke-width="1.4"/>
<line x1="572.4" y1="73.8" x2="561.6" y2="77.2" stroke="#98b2d2" stroke-width="1.4"/>
<line x1="572.4" y1="73.8" x2="578.4" y2="77.2" stroke="#98b2d2" stroke-width="1.4"/>
<line x1="555.6" y1="105.0" x2="555.6" y2="93.60000000000001" stroke="#98b2d2" stroke-width="1.4"/>
<line x1="555.6" y1="105.0" x2="550.0" y2="108.4" stroke="#98b2d2" stroke-width="1.4"/>
<line x1="555.6" y1="105.0" x2="561.6" y2="108.4" stroke="#98b2d2" stroke-width="1.4"/>
<line x1="572.4" y1="105.0" x2="572.4" y2="93.60000000000001" stroke="#98b2d2" stroke-width="1.4"/>
<line x1="572.4" y1="105.0" x2="561.6" y2="108.4" stroke="#98b2d2" stroke-width="1.4"/>
<line x1="572.4" y1="105.0" x2="578.4" y2="108.4" stroke="#98b2d2" stroke-width="1.4"/>
<line x1="555.6" y1="135.5" x2="555.6" y2="124.0" stroke="#98b2d2" stroke-width="1.4"/>
<line x1="555.6" y1="135.5" x2="550.0" y2="138.9" stroke="#98b2d2" stroke-width="1.4"/>
<line x1="555.6" y1="135.5" x2="561.6" y2="138.9" stroke="#98b2d2" stroke-width="1.4"/>
<line x1="572.4" y1="135.5" x2="572.4" y2="124.0" stroke="#98b2d2" stroke-width="1.4"/>
<line x1="572.4" y1="135.5" x2="561.6" y2="138.9" stroke="#98b2d2" stroke-width="1.4"/>
<line x1="572.4" y1="135.5" x2="578.4" y2="138.9" stroke="#98b2d2" stroke-width="1.4"/>
<circle cx="555.6" cy="29.799999999999997" r="1.5" fill="#f4f4fa" stroke="#8b8fc0" stroke-width="0.8"/>
<circle cx="572.4" cy="29.799999999999997" r="1.5" fill="#f4f4fa" stroke="#8b8fc0" stroke-width="0.8"/>
<circle cx="589.3" cy="29.799999999999997" r="1.5" fill="#f4f4fa" stroke="#8b8fc0" stroke-width="0.8"/>
<circle cx="555.6" cy="61.4" r="1.5" fill="#f4f4fa" stroke="#8b8fc0" stroke-width="0.8"/>
<circle cx="572.4" cy="61.4" r="1.5" fill="#f4f4fa" stroke="#8b8fc0" stroke-width="0.8"/>
<circle cx="589.3" cy="61.4" r="1.5" fill="#f4f4fa" stroke="#8b8fc0" stroke-width="0.8"/>
<circle cx="555.6" cy="93.60000000000001" r="1.5" fill="#f4f4fa" stroke="#8b8fc0" stroke-width="0.8"/>
<circle cx="572.4" cy="93.60000000000001" r="1.5" fill="#f4f4fa" stroke="#8b8fc0" stroke-width="0.8"/>
<circle cx="589.3" cy="93.60000000000001" r="1.5" fill="#f4f4fa" stroke="#8b8fc0" stroke-width="0.8"/>
<circle cx="555.6" cy="124.0" r="1.5" fill="#f4f4fa" stroke="#8b8fc0" stroke-width="0.8"/>
<circle cx="572.4" cy="124.0" r="1.5" fill="#f4f4fa" stroke="#8b8fc0" stroke-width="0.8"/>
<circle cx="589.3" cy="124.0" r="1.5" fill="#f4f4fa" stroke="#8b8fc0" stroke-width="0.8"/>
<circle cx="550.0" cy="45.5" r="1.5" fill="#f4f4fa" stroke="#8b8fc0" stroke-width="0.8"/>
<circle cx="561.6" cy="45.5" r="1.5" fill="#f4f4fa" stroke="#8b8fc0" stroke-width="0.8"/>
<circle cx="578.4" cy="45.5" r="1.5" fill="#f4f4fa" stroke="#8b8fc0" stroke-width="0.8"/>
<circle cx="550.0" cy="77.2" r="1.5" fill="#f4f4fa" stroke="#8b8fc0" stroke-width="0.8"/>
<circle cx="561.6" cy="77.2" r="1.5" fill="#f4f4fa" stroke="#8b8fc0" stroke-width="0.8"/>
<circle cx="578.4" cy="77.2" r="1.5" fill="#f4f4fa" stroke="#8b8fc0" stroke-width="0.8"/>
<circle cx="550.0" cy="108.4" r="1.5" fill="#f4f4fa" stroke="#8b8fc0" stroke-width="0.8"/>
<circle cx="561.6" cy="108.4" r="1.5" fill="#f4f4fa" stroke="#8b8fc0" stroke-width="0.8"/>
<circle cx="578.4" cy="108.4" r="1.5" fill="#f4f4fa" stroke="#8b8fc0" stroke-width="0.8"/>
<circle cx="550.0" cy="138.9" r="1.5" fill="#f4f4fa" stroke="#8b8fc0" stroke-width="0.8"/>
<circle cx="561.6" cy="138.9" r="1.5" fill="#f4f4fa" stroke="#8b8fc0" stroke-width="0.8"/>
<circle cx="578.4" cy="138.9" r="1.5" fill="#f4f4fa" stroke="#8b8fc0" stroke-width="0.8"/>
<ellipse cx="556.1" cy="33.2" rx="1.3" ry="1.1" fill="#1fa9c4"/>
<ellipse cx="572.6" cy="33.2" rx="1.3" ry="1.1" fill="#1fa9c4"/>
<ellipse cx="561.4" cy="49.2" rx="1.3" ry="1.1" fill="#1fa9c4"/>
<ellipse cx="578.2" cy="49.2" rx="1.3" ry="1.1" fill="#1fa9c4"/>
<ellipse cx="556" cy="64.2" rx="1.3" ry="1.1" fill="#1fa9c4"/>
<ellipse cx="572.3" cy="64.2" rx="1.3" ry="1.1" fill="#1fa9c4"/>
<ellipse cx="556" cy="92.5" rx="1.3" ry="1.1" fill="#1fa9c4"/>
<ellipse cx="572.5" cy="92.5" rx="1.3" ry="1.1" fill="#1fa9c4"/>
<ellipse cx="562.4" cy="45.2" rx="1.6" ry="1.2" fill="#c5d43a"/>
<ellipse cx="578.6" cy="44.8" rx="1.6" ry="1.2" fill="#c5d43a"/>
<ellipse cx="556.4" cy="68.0" rx="1.6" ry="1.2" fill="#c5d43a"/>
<ellipse cx="572.3" cy="68.0" rx="1.6" ry="1.2" fill="#c5d43a"/>
<ellipse cx="558.6" cy="61.6" rx="4.6" ry="2.1" fill="#c5d43a"/>
<ellipse cx="575.2" cy="61.6" rx="4.6" ry="2.1" fill="#c5d43a"/>
<circle cx="561.6" cy="26.4" r="3.5" fill="url(#gAl)"/>
<circle cx="578.4" cy="26.4" r="3.5" fill="url(#gAl)"/>
<circle cx="561.6" cy="58.0" r="3.5" fill="url(#gDb)"/>
<circle cx="578.4" cy="58.0" r="3.5" fill="url(#gAl)"/>
<circle cx="561.6" cy="90.2" r="3.5" fill="url(#gAl)"/>
<circle cx="578.4" cy="90.2" r="3.5" fill="url(#gAl)"/>
<circle cx="561.6" cy="120.6" r="3.5" fill="url(#gAl)"/>
<circle cx="578.4" cy="120.6" r="3.5" fill="url(#gAl)"/>
<circle cx="555.6" cy="42.1" r="3.5" fill="url(#gAl)"/>
<circle cx="572.4" cy="42.1" r="3.5" fill="url(#gGr)"/>
<circle cx="555.6" cy="73.8" r="3.5" fill="url(#gGr)"/>
<circle cx="572.4" cy="73.8" r="3.5" fill="url(#gAl)"/>
<circle cx="555.6" cy="105.0" r="3.5" fill="url(#gAl)"/>
<circle cx="572.4" cy="105.0" r="3.5" fill="url(#gAl)"/>
<circle cx="555.6" cy="135.5" r="3.5" fill="url(#gAl)"/>
<circle cx="572.4" cy="135.5" r="3.5" fill="url(#gAl)"/>
<path d="M550.5,79.6 C553,78.6 555.5,77.6 558.5,78.2 C561.5,78.8 564,81 567,80.6 C570,80.2 572,77.6 575,77.6 C578,77.6 580.5,79.8 583.5,79.6 L583.5,88.3 L550.5,88.3 Z" fill="#13b0d9"/>
<ellipse cx="563.0" cy="75.8" rx="3.8" ry="3.3" fill="#c5d43a"/>
<ellipse cx="578.8" cy="75.8" rx="3.8" ry="3.3" fill="#c5d43a"/>
<path d="M556.3,79.5 Q559.3,77.5 562.3,79.5 Q562,84 559.3,87 Q556.6,84 556.3,79.5 Z" fill="#c5d43a"/>
<path d="M572.6,79.5 Q575.6,77.5 578.6,79.5 Q578.3,84 575.6,87 Q572.9,84 572.6,79.5 Z" fill="#c5d43a"/>
<ellipse cx="559.4" cy="81.5" rx="0.9" ry="0.9" fill="#2aa0a8"/>
<ellipse cx="575.7" cy="81.5" rx="0.9" ry="0.9" fill="#2aa0a8"/>
<line x1="654.7" y1="27" x2="654.7" y2="157" stroke="#777" stroke-width="0.6" stroke-dasharray="0.8,1.2"/>
<line x1="673.4" y1="27" x2="673.4" y2="157" stroke="#777" stroke-width="0.6" stroke-dasharray="0.8,1.2"/>
<line x1="667.2" y1="25.8" x2="667.2" y2="35.8" stroke="#98b2d2" stroke-width="1.4"/>
<line x1="667.2" y1="35.8" x2="661.4" y2="40.2" stroke="#98b2d2" stroke-width="1.4"/>
<line x1="661" y1="53.9" x2="667.2" y2="58.9" stroke="#98b2d2" stroke-width="1.4"/>
<line x1="661" y1="53.9" x2="652.3" y2="57" stroke="#98b2d2" stroke-width="1.4"/>
<line x1="667.4" y1="71.7" x2="667.2" y2="58.9" stroke="#98b2d2" stroke-width="1.4"/>
<line x1="667.4" y1="71.7" x2="661.1" y2="76.5" stroke="#98b2d2" stroke-width="1.4"/>
<circle cx="661.4" cy="40.2" r="1.5" fill="#f4f4fa" stroke="#8b8fc0" stroke-width="0.8"/>
<circle cx="679.8" cy="40.2" r="1.5" fill="#f4f4fa" stroke="#8b8fc0" stroke-width="0.8"/>
<circle cx="667.2" cy="58.9" r="1.5" fill="#f4f4fa" stroke="#8b8fc0" stroke-width="0.8"/>
<circle cx="652.3" cy="57" r="1.5" fill="#f4f4fa" stroke="#8b8fc0" stroke-width="0.8"/>
<circle cx="661.1" cy="76.5" r="1.5" fill="#f4f4fa" stroke="#8b8fc0" stroke-width="0.8"/>
<circle cx="679.9" cy="76.5" r="1.5" fill="#f4f4fa" stroke="#8b8fc0" stroke-width="0.8"/>
<circle cx="667.2" cy="35.8" r="3.6" fill="url(#gAl)"/>
<circle cx="661" cy="53.9" r="3.6" fill="url(#gAl)"/>
<circle cx="667.4" cy="71.7" r="3.6" fill="url(#gAl)"/>
<ellipse cx="659.9" cy="73.6" rx="1.6" ry="1.3" fill="#c5d43a"/>
<ellipse cx="661.8" cy="80.5" rx="1.8" ry="1.3" fill="#c5d43a"/>
<path d="M654.9,110 L654.9,88 C655.5,84.5 660,82.3 664.5,82.3 C669,82.3 673.6,84.5 674.2,88 L674.2,114 L654.9,114 Z" fill="#1f9e9c"/>
<ellipse cx="667.0" cy="95.0" rx="5.8" ry="5.6" fill="#c8d63e"/>
<ellipse cx="667.5" cy="95.5" rx="2.2" ry="2.2" fill="#9cc850"/>
<ellipse cx="664.5" cy="93.0" rx="2.2" ry="2.0" fill="#8ec65a"/>
<ellipse cx="667" cy="105.5" rx="3.2" ry="2.6" fill="#2fb4dc"/>
<ellipse cx="659.2" cy="107.5" rx="3.0" ry="2.2" fill="#76c050"/>
<ellipse cx="671.5" cy="108" rx="2.5" ry="2.0" fill="#76c050"/>
<circle cx="660.5" cy="89.5" r="3.7" fill="url(#gAl)"/>
<ellipse cx="664" cy="116" rx="2.5" ry="1.8" fill="#9ccc4c"/>
<ellipse cx="670" cy="114" rx="2" ry="1.6" fill="#c8d63e"/>
<ellipse cx="657.5" cy="115" rx="2" ry="1.6" fill="#3cb8c8"/>
<line x1="680.3" y1="114.3" x2="671.7" y2="117.3" stroke="#d36aa6" stroke-width="0.9"/>
<line x1="681.3" y1="119.4" x2="671.7" y2="122.4" stroke="#d36aa6" stroke-width="0.9"/>
<line x1="679.2" y1="125.3" x2="671.7" y2="128.3" stroke="#d36aa6" stroke-width="0.9"/>
<line x1="681.3" y1="129.4" x2="671.7" y2="132.4" stroke="#d36aa6" stroke-width="0.9"/>
<line x1="680.3" y1="133.5" x2="671.7" y2="136.5" stroke="#d36aa6" stroke-width="0.9"/>
<line x1="681.3" y1="155.7" x2="671.7" y2="158.7" stroke="#d36aa6" stroke-width="0.9"/>
<line x1="653" y1="111.8" x2="656" y2="113.8" stroke="#d36aa6" stroke-width="0.8"/>
<line x1="653" y1="116" x2="656" y2="118" stroke="#d36aa6" stroke-width="0.8"/>
<line x1="653" y1="120" x2="656" y2="122" stroke="#d36aa6" stroke-width="0.8"/>
<line x1="653" y1="125.5" x2="656" y2="127.5" stroke="#d36aa6" stroke-width="0.8"/>
<line x1="653" y1="129.7" x2="656" y2="131.7" stroke="#d36aa6" stroke-width="0.8"/>
<line x1="653" y1="133.8" x2="656" y2="135.8" stroke="#d36aa6" stroke-width="0.8"/>
<line x1="653" y1="137.9" x2="656" y2="139.9" stroke="#d36aa6" stroke-width="0.8"/>
<line x1="653" y1="142" x2="656" y2="144" stroke="#d36aa6" stroke-width="0.8"/>
<line x1="653" y1="146.1" x2="656" y2="148.1" stroke="#d36aa6" stroke-width="0.8"/>
<line x1="653" y1="150.2" x2="656" y2="152.2" stroke="#d36aa6" stroke-width="0.8"/>
<circle cx="654.3" cy="104.9" r="4.8" fill="url(#gGa)"/>
<circle cx="664.9" cy="121.2" r="4.8" fill="url(#gGa)"/>
<circle cx="669" cy="125.3" r="4.8" fill="url(#gGa)"/>
<circle cx="658.7" cy="124.2" r="4.8" fill="url(#gGa)"/>
<circle cx="657.3" cy="131.7" r="4.8" fill="url(#gGa)"/>
<circle cx="666.9" cy="131.7" r="4.8" fill="url(#gGa)"/>
<circle cx="657.3" cy="139.9" r="4.8" fill="url(#gGa)"/>
<circle cx="666.9" cy="139.2" r="4.8" fill="url(#gGa)"/>
<circle cx="660.1" cy="148.6" r="4.8" fill="url(#gGa)"/>
<circle cx="665.5" cy="148.6" r="4.8" fill="url(#gGa)"/>
<circle cx="658.7" cy="155.7" r="4.8" fill="url(#gGa)"/>
<circle cx="668.3" cy="155.7" r="4.8" fill="url(#gGa)"/>
<circle cx="653" cy="111.8" r="1.8" fill="#f6e4ee" stroke="#d36aa6" stroke-width="1.0"/>
<circle cx="653" cy="116" r="1.8" fill="#f6e4ee" stroke="#d36aa6" stroke-width="1.0"/>
<circle cx="653" cy="120" r="1.8" fill="#f6e4ee" stroke="#d36aa6" stroke-width="1.0"/>
<circle cx="653" cy="125.5" r="1.8" fill="#f6e4ee" stroke="#d36aa6" stroke-width="1.0"/>
<circle cx="653" cy="129.7" r="1.8" fill="#f6e4ee" stroke="#d36aa6" stroke-width="1.0"/>
<circle cx="653" cy="133.8" r="1.8" fill="#f6e4ee" stroke="#d36aa6" stroke-width="1.0"/>
<circle cx="653" cy="137.9" r="1.8" fill="#f6e4ee" stroke="#d36aa6" stroke-width="1.0"/>
<circle cx="653" cy="142" r="1.8" fill="#f6e4ee" stroke="#d36aa6" stroke-width="1.0"/>
<circle cx="653" cy="146.1" r="1.8" fill="#f6e4ee" stroke="#d36aa6" stroke-width="1.0"/>
<circle cx="653" cy="150.2" r="1.8" fill="#f6e4ee" stroke="#d36aa6" stroke-width="1.0"/>
<circle cx="653" cy="154.3" r="1.8" fill="#f6e4ee" stroke="#d36aa6" stroke-width="1.0"/>
<circle cx="680.3" cy="114.3" r="1.8" fill="#f6e4ee" stroke="#d36aa6" stroke-width="1.0"/>
<circle cx="681.3" cy="119.4" r="1.8" fill="#f6e4ee" stroke="#d36aa6" stroke-width="1.0"/>
<circle cx="679.2" cy="125.3" r="1.8" fill="#f6e4ee" stroke="#d36aa6" stroke-width="1.0"/>
<circle cx="681.3" cy="129.4" r="1.8" fill="#f6e4ee" stroke="#d36aa6" stroke-width="1.0"/>
<circle cx="680.3" cy="133.5" r="1.8" fill="#f6e4ee" stroke="#d36aa6" stroke-width="1.0"/>
<circle cx="681.3" cy="155.7" r="1.8" fill="#f6e4ee" stroke="#d36aa6" stroke-width="1.0"/>
<circle cx="677.4" cy="104.3" r="1.8" fill="#f6e4ee" stroke="#d36aa6" stroke-width="1.0"/>
<circle cx="682.4" cy="104.3" r="1.8" fill="#f6e4ee" stroke="#d36aa6" stroke-width="1.0"/>
<circle cx="671.7" cy="120" r="1.8" fill="#f6e4ee" stroke="#d36aa6" stroke-width="1.0"/>
<circle cx="671.7" cy="128" r="1.8" fill="#f6e4ee" stroke="#d36aa6" stroke-width="1.0"/>
<circle cx="671.7" cy="135" r="1.8" fill="#f6e4ee" stroke="#d36aa6" stroke-width="1.0"/>
<circle cx="671.7" cy="143" r="1.8" fill="#f6e4ee" stroke="#d36aa6" stroke-width="1.0"/>
<circle cx="671.7" cy="150" r="1.8" fill="#f6e4ee" stroke="#d36aa6" stroke-width="1.0"/>
<circle cx="662.5" cy="136" r="1.8" fill="#f6e4ee" stroke="#d36aa6" stroke-width="1.0"/>
<circle cx="662.5" cy="127" r="1.8" fill="#f6e4ee" stroke="#d36aa6" stroke-width="1.0"/>
<circle cx="662" cy="144" r="1.8" fill="#f6e4ee" stroke="#d36aa6" stroke-width="1.0"/>
<circle cx="662" cy="152" r="1.8" fill="#f6e4ee" stroke="#d36aa6" stroke-width="1.0"/>
<text transform="translate(481.6,92.4) rotate(-90)" x="0" y="0" font-size="11.2" font-weight="bold" text-anchor="middle" textLength="64.6" lengthAdjust="spacingAndGlyphs">Distance (&#197;)</text>
<rect x="29.5" y="232.3" width="70.9" height="138" fill="#b9bbbc"/>
<rect x="100.4" y="232.3" width="12.4" height="138" fill="#6aa8d2"/>
<rect x="112.8" y="232.3" width="95.4" height="138" fill="#efb78b"/>
<line x1="29.5" y1="232.3" x2="31.9" y2="232.3" stroke="#4a3838" stroke-width="0.9"/>
<line x1="29.5" y1="239.20000000000002" x2="31.0" y2="239.20000000000002" stroke="#4a3838" stroke-width="0.9"/>
<line x1="29.5" y1="246.10000000000002" x2="31.9" y2="246.10000000000002" stroke="#4a3838" stroke-width="0.9"/>
<line x1="29.5" y1="253.0" x2="31.0" y2="253.0" stroke="#4a3838" stroke-width="0.9"/>
<line x1="29.5" y1="259.90000000000003" x2="31.9" y2="259.90000000000003" stroke="#4a3838" stroke-width="0.9"/>
<line x1="29.5" y1="266.8" x2="31.0" y2="266.8" stroke="#4a3838" stroke-width="0.9"/>
<line x1="29.5" y1="273.70000000000005" x2="31.9" y2="273.70000000000005" stroke="#4a3838" stroke-width="0.9"/>
<line x1="29.5" y1="280.6" x2="31.0" y2="280.6" stroke="#4a3838" stroke-width="0.9"/>
<line x1="29.5" y1="287.5" x2="31.9" y2="287.5" stroke="#4a3838" stroke-width="0.9"/>
<line x1="29.5" y1="294.40000000000003" x2="31.0" y2="294.40000000000003" stroke="#4a3838" stroke-width="0.9"/>
<line x1="29.5" y1="301.3" x2="31.9" y2="301.3" stroke="#4a3838" stroke-width="0.9"/>
<line x1="29.5" y1="308.20000000000005" x2="31.0" y2="308.20000000000005" stroke="#4a3838" stroke-width="0.9"/>
<line x1="29.5" y1="315.1" x2="31.9" y2="315.1" stroke="#4a3838" stroke-width="0.9"/>
<line x1="29.5" y1="322.0" x2="31.0" y2="322.0" stroke="#4a3838" stroke-width="0.9"/>
<line x1="29.5" y1="328.90000000000003" x2="31.9" y2="328.90000000000003" stroke="#4a3838" stroke-width="0.9"/>
<line x1="29.5" y1="335.8" x2="31.0" y2="335.8" stroke="#4a3838" stroke-width="0.9"/>
<line x1="29.5" y1="342.70000000000005" x2="31.9" y2="342.70000000000005" stroke="#4a3838" stroke-width="0.9"/>
<line x1="29.5" y1="349.6" x2="31.0" y2="349.6" stroke="#4a3838" stroke-width="0.9"/>
<line x1="29.5" y1="356.5" x2="31.9" y2="356.5" stroke="#4a3838" stroke-width="0.9"/>
<line x1="29.5" y1="363.4" x2="31.0" y2="363.4" stroke="#4a3838" stroke-width="0.9"/>
<line x1="29.5" y1="370.3" x2="31.9" y2="370.3" stroke="#4a3838" stroke-width="0.9"/>
<line x1="39.4" y1="370.3" x2="39.4" y2="367.9" stroke="#4a3838" stroke-width="0.9"/>
<line x1="59.3" y1="370.3" x2="59.3" y2="368.8" stroke="#4a3838" stroke-width="0.9"/>
<line x1="79.19999999999999" y1="370.3" x2="79.19999999999999" y2="367.9" stroke="#4a3838" stroke-width="0.9"/>
<line x1="99.1" y1="370.3" x2="99.1" y2="368.8" stroke="#4a3838" stroke-width="0.9"/>
<line x1="119.0" y1="370.3" x2="119.0" y2="367.9" stroke="#4a3838" stroke-width="0.9"/>
<line x1="138.9" y1="370.3" x2="138.9" y2="368.8" stroke="#4a3838" stroke-width="0.9"/>
<line x1="158.79999999999998" y1="370.3" x2="158.79999999999998" y2="367.9" stroke="#4a3838" stroke-width="0.9"/>
<line x1="178.7" y1="370.3" x2="178.7" y2="368.8" stroke="#4a3838" stroke-width="0.9"/>
<line x1="198.6" y1="370.3" x2="198.6" y2="367.9" stroke="#4a3838" stroke-width="0.9"/>
<rect x="29.5" y="232.3" width="178.7" height="138" fill="none" stroke="#4a3838" stroke-width="1.2"/>
<text x="26.5" y="236.2" font-size="10.8" text-anchor="end" font-weight="bold">4</text>
<text x="26.5" y="250.0" font-size="10.8" text-anchor="end" font-weight="bold">3</text>
<text x="26.5" y="263.8" font-size="10.8" text-anchor="end" font-weight="bold">2</text>
<text x="26.5" y="277.6" font-size="10.8" text-anchor="end" font-weight="bold">1</text>
<text x="26.5" y="291.4" font-size="10.8" text-anchor="end" font-weight="bold">0</text>
<text x="26.5" y="305.2" font-size="10.8" text-anchor="end" font-weight="bold">-1</text>
<text x="26.5" y="319.0" font-size="10.8" text-anchor="end" font-weight="bold">-2</text>
<text x="26.5" y="332.8" font-size="10.8" text-anchor="end" font-weight="bold">-3</text>
<text x="26.5" y="346.6" font-size="10.8" text-anchor="end" font-weight="bold">-4</text>
<text x="26.5" y="360.4" font-size="10.8" text-anchor="end" font-weight="bold">-5</text>
<text x="26.5" y="374.2" font-size="10.8" text-anchor="end" font-weight="bold">-6</text>
<text x="39.4" y="382.7" font-size="10.9" text-anchor="middle" font-weight="bold">0.4</text>
<text x="79.19999999999999" y="382.7" font-size="10.9" text-anchor="middle" font-weight="bold">0.3</text>
<text x="119.0" y="382.7" font-size="10.9" text-anchor="middle" font-weight="bold">0.2</text>
<text x="158.79999999999998" y="382.7" font-size="10.9" text-anchor="middle" font-weight="bold">0.1</text>
<text x="198.6" y="382.7" font-size="10.9" text-anchor="middle" font-weight="bold">0.0</text>
<text x="118.0" y="398.0" font-size="11.3" text-anchor="middle" font-weight="bold" textLength="74.9" lengthAdjust="spacingAndGlyphs">Location (&#181;m)</text>
<text transform="translate(11.2,297.3) rotate(-90)" x="0" y="0" font-size="11.3" font-weight="bold" text-anchor="middle" textLength="61.3" lengthAdjust="spacingAndGlyphs">Energy (eV)</text>
<text x="35.0" y="244.0" font-size="9.5" font-weight="bold" textLength="31.3" lengthAdjust="spacingAndGlyphs">V = 0 V</text>
<line x1="171" y1="239.5" x2="187.9" y2="239.5" stroke="#231f20" stroke-width="1.0"/>
<text x="192.8" y="244.1" font-size="10.2" font-weight="bold" font-style="italic">E</text>
<text x="198.6" y="247.3" font-size="8.0" font-weight="bold">c</text>
<line x1="171" y1="253.5" x2="187.9" y2="253.5" stroke="#d22a3c" stroke-width="1.1"/>
<text x="192.8" y="258.1" font-size="10.2" font-weight="bold" font-style="italic">E</text>
<text x="198.6" y="261.0" font-size="8.0" font-weight="bold">v</text>
<path d="M45.7,287.9 L95.5,287.9 C97.5,287.6 98.6,284 99.2,280.1 C99.8,276 99.9,271 101.2,269.4 L111.7,270.4 L112.4,270.6 L112.6,287.4 C113.5,287.2 114,286.8 118.7,286.3 C125,285.8 135,285.4 146.7,285.2 L189.7,285.2" fill="none" stroke="#231f20" stroke-width="1.1"/>
<text x="192.8" y="289.1" font-size="10.2" font-weight="bold" font-style="italic">E</text>
<text x="198.6" y="292.6" font-size="8.0" font-weight="bold">c</text>
<path d="M45.8,362.2 L97.3,362.2 C99,361.6 99.8,358 100.4,354.5 L101,353.4 C102.5,354.2 103.5,355 104.8,355.4 L110,356.3 L113.2,357.2 C114,356.6 116,356 122,355.4 C130,355 150,354.7 191.3,354.7" fill="none" stroke="#d22a3c" stroke-width="1.1"/>
<text x="192.8" y="358.9" font-size="10.2" font-weight="bold" font-style="italic">E</text>
<text x="198.6" y="362.0" font-size="8.0" font-weight="bold">v</text>
<text x="41.9" y="325.3" font-size="9.5" font-weight="bold" textLength="41.3" lengthAdjust="spacingAndGlyphs">AlGaN:Si</text>
<text x="97.3" y="312.5" font-size="9.5" font-weight="bold" textLength="15.9" lengthAdjust="spacingAndGlyphs">AlN</text>
<text x="147" y="321.6" font-size="9.5" font-weight="bold">Ga<tspan font-size="6" dy="2.2">2</tspan><tspan dy="-2.2">O</tspan><tspan font-size="6" dy="2.2">3</tspan></text>
<rect x="257.4" y="232.2" width="71.3" height="138.2" fill="#b9bbbc"/>
<rect x="328.7" y="232.2" width="12.8" height="138.2" fill="#6aa8d2"/>
<rect x="341.5" y="232.2" width="95.2" height="138.2" fill="#efb78b"/>
<line x1="257.4" y1="365.6" x2="259.9" y2="365.6" stroke="#4a3838" stroke-width="0.9"/>
<line x1="257.4" y1="352.3" x2="259.0" y2="352.3" stroke="#4a3838" stroke-width="0.9"/>
<line x1="257.4" y1="339.0" x2="259.9" y2="339.0" stroke="#4a3838" stroke-width="0.9"/>
<line x1="257.4" y1="325.70000000000005" x2="259.0" y2="325.70000000000005" stroke="#4a3838" stroke-width="0.9"/>
<line x1="257.4" y1="312.40000000000003" x2="259.9" y2="312.40000000000003" stroke="#4a3838" stroke-width="0.9"/>
<line x1="257.4" y1="299.1" x2="259.0" y2="299.1" stroke="#4a3838" stroke-width="0.9"/>
<line x1="257.4" y1="285.8" x2="259.9" y2="285.8" stroke="#4a3838" stroke-width="0.9"/>
<line x1="257.4" y1="272.5" x2="259.0" y2="272.5" stroke="#4a3838" stroke-width="0.9"/>
<line x1="257.4" y1="259.20000000000005" x2="259.9" y2="259.20000000000005" stroke="#4a3838" stroke-width="0.9"/>
<line x1="257.4" y1="245.90000000000003" x2="259.0" y2="245.90000000000003" stroke="#4a3838" stroke-width="0.9"/>
<line x1="257.4" y1="232.60000000000002" x2="259.9" y2="232.60000000000002" stroke="#4a3838" stroke-width="0.9"/>
<line x1="268.0" y1="370.4" x2="268.0" y2="368.0" stroke="#4a3838" stroke-width="0.9"/>
<line x1="287.875" y1="370.4" x2="287.875" y2="368.9" stroke="#4a3838" stroke-width="0.9"/>
<line x1="307.75" y1="370.4" x2="307.75" y2="368.0" stroke="#4a3838" stroke-width="0.9"/>
<line x1="327.625" y1="370.4" x2="327.625" y2="368.9" stroke="#4a3838" stroke-width="0.9"/>
<line x1="347.5" y1="370.4" x2="347.5" y2="368.0" stroke="#4a3838" stroke-width="0.9"/>
<line x1="367.375" y1="370.4" x2="367.375" y2="368.9" stroke="#4a3838" stroke-width="0.9"/>
<line x1="387.25" y1="370.4" x2="387.25" y2="368.0" stroke="#4a3838" stroke-width="0.9"/>
<line x1="407.125" y1="370.4" x2="407.125" y2="368.9" stroke="#4a3838" stroke-width="0.9"/>
<line x1="427.0" y1="370.4" x2="427.0" y2="368.0" stroke="#4a3838" stroke-width="0.9"/>
<rect x="257.4" y="232.2" width="179.3" height="138.2" fill="none" stroke="#4a3838" stroke-width="1.2"/>
<text x="255.6" y="369.3" font-size="11" text-anchor="end" font-weight="bold">0</text>
<text x="255.6" y="342.7" font-size="11" text-anchor="end" font-weight="bold">3</text>
<text x="255.6" y="316.1" font-size="11" text-anchor="end" font-weight="bold">6</text>
<text x="255.6" y="289.5" font-size="11" text-anchor="end" font-weight="bold">9</text>
<text x="255.6" y="262.9" font-size="11" text-anchor="end" font-weight="bold">12</text>
<text x="255.6" y="236.3" font-size="11" text-anchor="end" font-weight="bold">15</text>
<text x="268.0" y="382.7" font-size="10.9" text-anchor="middle" font-weight="bold">0.4</text>
<text x="307.75" y="382.7" font-size="10.9" text-anchor="middle" font-weight="bold">0.3</text>
<text x="347.5" y="382.7" font-size="10.9" text-anchor="middle" font-weight="bold">0.2</text>
<text x="387.25" y="382.7" font-size="10.9" text-anchor="middle" font-weight="bold">0.1</text>
<text x="427.0" y="382.7" font-size="10.9" text-anchor="middle" font-weight="bold">0.0</text>
<text x="345.5" y="398.0" font-size="11.3" text-anchor="middle" font-weight="bold" textLength="74.7" lengthAdjust="spacingAndGlyphs">Location (&#181;m)</text>
<text transform="translate(238.9,302.8) rotate(-90)" x="0" y="0" font-size="11.3" font-weight="bold" text-anchor="middle" textLength="134" lengthAdjust="spacingAndGlyphs">Electric field (10<tspan font-size="6.8" dy="-4.3">5</tspan><tspan dy="4.3"> V cm</tspan><tspan font-size="6.8" dy="-4.3">-1</tspan><tspan dy="4.3">)</tspan></text>
<text x="263.9" y="244.0" font-size="9.5" font-weight="bold" textLength="31.5" lengthAdjust="spacingAndGlyphs">V = 0 V</text>
<text x="326.8" y="246.1" font-size="9.2" font-weight="bold" textLength="15.7" lengthAdjust="spacingAndGlyphs">AlN</text>
<line x1="346.2" y1="241.2" x2="362.2" y2="241.2" stroke="#d22a3c" stroke-width="1.1"/>
<text x="364.6" y="244.0" font-size="8.4" font-weight="bold" textLength="69.1" lengthAdjust="spacingAndGlyphs">With polarization</text>
<path d="M274.1,366.2 L323.9,366.2 C325.8,366 326.6,364.5 327.4,358 C328.2,350 328.6,340 329.1,325 L329.5,300 L329.6,247 L330.4,250.6 L339.5,251 C340.8,251.2 341.2,252 341.3,254 L341.3,358 L420.8,358" fill="none" stroke="#d22a3c" stroke-width="1.1"/>
<text x="270.4" y="362.1" font-size="9.4" font-weight="bold" textLength="40.5" lengthAdjust="spacingAndGlyphs">AlGaN:Si</text>
<text x="370.3" y="353.3" font-size="9.5" font-weight="bold">Ga<tspan font-size="6" dy="2.2">2</tspan><tspan dy="-2.2">O</tspan><tspan font-size="6" dy="2.2">3</tspan></text>
<path d="M480,268.9 L553.5,268.9 Q557.8,268.9 558,264 L558.2,233.6 L590.9,240.2 L590.9,274.6 L592.2,273.2 L669.9,277.4" fill="none" stroke="#1f6fbf" stroke-width="2" stroke-linejoin="round"/>
<path d="M479.5,352.1 L553.8,352 Q557.6,351.6 558,347 L558.4,344 L590.9,349.8 L591.3,352.8 L592.4,350.9 L672.2,356.3" fill="none" stroke="#1f6fbf" stroke-width="2" stroke-linejoin="round"/>
<path d="M484.3,282.3 L557.6,282.3" fill="none" stroke="#000" stroke-width="2" stroke-dasharray="5.6,3.4" stroke-linecap="butt"/>
<path d="M557.9,292.6 L592.1,299.3" fill="none" stroke="#000" stroke-width="2" stroke-dasharray="5.6,3.4" stroke-linecap="butt"/>
<path d="M589.7,302.6 L662.5,305.6" fill="none" stroke="#000" stroke-width="2" stroke-dasharray="5.6,3.4" stroke-linecap="butt"/>
<text x="462.9" y="270.6" font-size="13.6" font-weight="bold" font-style="italic">E</text>
<text x="471.7" y="275.3" font-size="7.8">C</text>
<text x="462.9" y="355.9" font-size="13.6" font-weight="bold" font-style="italic">E</text>
<text x="471.7" y="360.3" font-size="7.8">V</text>
<text x="668.6" y="312.2" font-size="12.0" font-weight="bold" font-style="italic">E</text>
<text x="676.5" y="315.9" font-size="7.2">F</text>
<text x="574.4" y="251.7" font-size="9.4" text-anchor="middle" font-weight="bold" fill="#151515" textLength="15.6" lengthAdjust="spacingAndGlyphs">AlN</text>
<text x="574.5" y="262.6" font-size="9.4" text-anchor="middle" font-weight="bold" fill="#151515" textLength="28.7" lengthAdjust="spacingAndGlyphs">barrier</text>
<text x="517.8" y="310.6" font-size="9.8" text-anchor="middle" font-weight="bold" fill="#151515" textLength="73.6" lengthAdjust="spacingAndGlyphs">N-polarAlGaN:Si</text>
<text x="517.6" y="321.0" font-size="10.0" text-anchor="middle" font-weight="bold" fill="#151515" textLength="58.0" lengthAdjust="spacingAndGlyphs">contact layer</text>
<text x="646.2" y="295.5" font-size="10.8" text-anchor="middle" font-weight="bold" fill="#a15db3" textLength="30.2" lengthAdjust="spacingAndGlyphs">SBUV</text>
<text x="641.2" y="328.0" font-size="9.4" font-weight="bold" fill="#151515" textLength="25.3" lengthAdjust="spacingAndGlyphs">Ga<tspan font-size="5.4" dy="2.1">2</tspan><tspan dy="-2.1">O</tspan><tspan font-size="5.4" dy="2.1">3</tspan></text>
<text x="653.2" y="338.0" font-size="9.4" text-anchor="middle" font-weight="bold" fill="#151515" textLength="40.0" lengthAdjust="spacingAndGlyphs">absorber</text>
<text x="653.0" y="345.8" font-size="9.4" text-anchor="middle" font-weight="bold" fill="#151515" textLength="20.6" lengthAdjust="spacingAndGlyphs">layer</text>
<path d="M514,251.3 L532.9,250.9 C538,250.4 539.3,246 540.3,240 C541.3,233.5 544.5,229 552.6,227.5" fill="none" stroke="#3a2424" stroke-width="1.3"/>
<path d="M546.8,225.4 L552.9,227.4 L549.4,232.6" fill="none" stroke="#3a2424" stroke-width="1.3"/>
<path d="M601.9,257.2 L633.6,257.4" fill="none" stroke="#3a2424" stroke-width="1.3"/>
<path d="M628,253.6 L633.8,257.4 L628,261.2" fill="none" stroke="#3a2424" stroke-width="1.3"/>
<path d="M615.3,348.9 L615.3,276.6" fill="none" stroke="#3a2424" stroke-width="1.3"/>
<path d="M611.6,282.6 L615.3,276.4 L619.0,282.6" fill="none" stroke="#3a2424" stroke-width="1.3"/>
<path d="M606.9,374.9 L568,379.2 C564.6,379.4 564,376.5 563.6,372.5 C563.2,369.5 561.5,368.9 558,368.9 L541.3,368" fill="none" stroke="#3a2424" stroke-width="1.3"/>
<path d="M547,364.6 L541,368 L547,372.2" fill="none" stroke="#3a2424" stroke-width="1.3"/>
<path d="M644.3,298.6 C645.3,301 646.6,306 645.3,306.9 C644,307.7 640.6,300.9 639,301.6 C637.4,302.3 638.6,312.4 637.2,313.1 C635.9,313.8 634.2,308.6 632.6,309.4 C631,310.3 631.6,317.4 630.3,318.2 C628.2,319.5 623.5,321.3 621.2,322.3" fill="none" stroke="#a15db3" stroke-width="1.3" stroke-linejoin="round"/>
<path d="M622.8,316.4 L620.9,322.5 L627.2,322.1" fill="none" stroke="#a15db3" stroke-width="1.3"/>
<circle cx="512.9" cy="261.7" r="5.1" fill="url(#gEl)" stroke="#9cc6cc" stroke-width="0.5"/>
<rect x="510.80" y="261.00" width="4.2" height="1.5" fill="#5a6060"/>
<circle cx="536.6" cy="261.9" r="5.1" fill="url(#gEl)" stroke="#9cc6cc" stroke-width="0.5"/>
<rect x="534.50" y="261.20" width="4.2" height="1.5" fill="#5a6060"/>
<circle cx="615.3" cy="265.5" r="5.1" fill="url(#gEl)" stroke="#9cc6cc" stroke-width="0.5"/>
<rect x="613.20" y="264.80" width="4.2" height="1.5" fill="#5a6060"/>
<circle cx="525.1" cy="360.4" r="5.2" fill="url(#gHo)" stroke="#96c48e" stroke-width="0.5"/>
<path d="M522.5,360.4 L527.7,360.4 M525.1,357.79999999999995 L525.1,363.0" stroke="#6e6e6e" stroke-width="1.2"/>
<circle cx="560.6" cy="353.0" r="5.2" fill="url(#gHo)" stroke="#96c48e" stroke-width="0.5"/>
<path d="M558.0,353.0 L563.2,353.0 M560.6,350.4 L560.6,355.6" stroke="#6e6e6e" stroke-width="1.2"/>
<circle cx="568.9" cy="356.4" r="5.2" fill="url(#gHo)" stroke="#96c48e" stroke-width="0.5"/>
<path d="M566.3,356.4 L571.5,356.4 M568.9,353.79999999999995 L568.9,359.0" stroke="#6e6e6e" stroke-width="1.2"/>
<circle cx="559.6" cy="361.4" r="5.2" fill="url(#gHo)" stroke="#96c48e" stroke-width="0.5"/>
<path d="M557.0,361.4 L562.2,361.4 M559.6,358.79999999999995 L559.6,364.0" stroke="#6e6e6e" stroke-width="1.2"/>
<circle cx="582.3" cy="357.4" r="5.2" fill="url(#gHo)" stroke="#96c48e" stroke-width="0.5"/>
<path d="M579.6999999999999,357.4 L584.9,357.4 M582.3,354.79999999999995 L582.3,360.0" stroke="#6e6e6e" stroke-width="1.2"/>
<circle cx="615.3" cy="360.3" r="5.2" fill="url(#gHo)" stroke="#96c48e" stroke-width="0.5"/>
<path d="M612.6999999999999,360.3 L617.9,360.3 M615.3,357.7 L615.3,362.90000000000003" stroke="#6e6e6e" stroke-width="1.2"/>
</svg>
</body></html>
